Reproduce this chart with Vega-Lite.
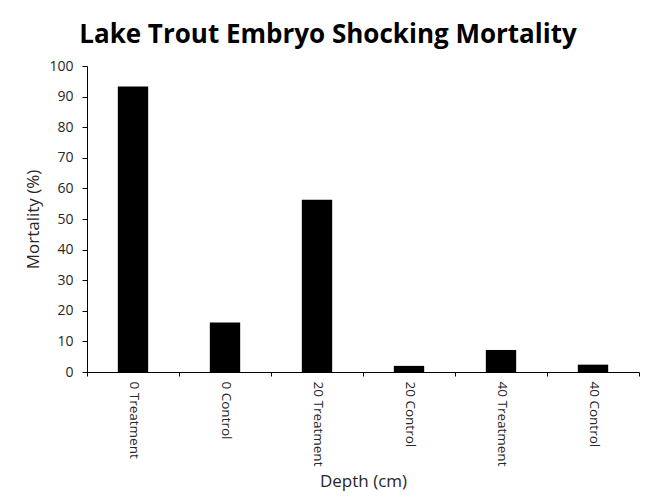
{
  "$schema": "https://vega.github.io/schema/vega-lite/v6.json",
  "width": 552,
  "height": 306,
  "autosize": {"type": "none"},
  "padding": {"left": 87, "top": 66, "right": 6, "bottom": 127},
  "background": "white",
  "title": {
    "text": "Lake Trout Embryo Shocking Mortality",
    "font": "Open Sans",
    "fontSize": 26,
    "fontWeight": "bold",
    "color": "#000000",
    "anchor": "middle",
    "dx": -35,
    "offset": 11
  },
  "data": {
    "values": [
      {"group": "0 Treatment", "mortality": 93.3},
      {"group": "0 Control", "mortality": 16.2},
      {"group": "20 Treatment", "mortality": 56.3},
      {"group": "20 Control", "mortality": 2.0},
      {"group": "40 Treatment", "mortality": 7.2},
      {"group": "40 Control", "mortality": 2.4}
    ]
  },
  "mark": {"type": "bar", "color": "#000000", "width": {"band": 0.33}},
  "encoding": {
    "x": {
      "field": "group",
      "type": "nominal",
      "sort": null,
      "scale": {"paddingInner": 0, "paddingOuter": 0},
      "axis": {
        "title": "Depth (cm)",
        "titleFont": "Open Sans",
        "titleFontSize": 17,
        "titleFontWeight": "normal",
        "titleColor": "#262626",
        "titlePadding": 8,
        "labelAngle": 90,
        "labelAlign": "left",
        "labelBaseline": "middle",
        "labelFont": "Open Sans",
        "labelFontSize": 13.5,
        "labelColor": "#262626",
        "labelPadding": 5,
        "tickBand": "extent",
        "tickSize": 4,
        "tickColor": "#000000",
        "domainColor": "#000000",
        "grid": false
      }
    },
    "y": {
      "field": "mortality",
      "type": "quantitative",
      "scale": {"domain": [0, 100], "nice": false},
      "axis": {
        "title": "Mortality (%)",
        "titleFont": "Open Sans",
        "titleFontSize": 17,
        "titleFontWeight": "normal",
        "titleColor": "#262626",
        "titlePadding": 6,
        "values": [0, 10, 20, 30, 40, 50, 60, 70, 80, 90, 100],
        "labelFont": "Open Sans",
        "labelFontSize": 14,
        "labelColor": "#262626",
        "labelPadding": 9,
        "tickSize": 5,
        "tickColor": "#000000",
        "domainColor": "#000000",
        "grid": false
      }
    }
  },
  "config": {"view": {"stroke": null}}
}
